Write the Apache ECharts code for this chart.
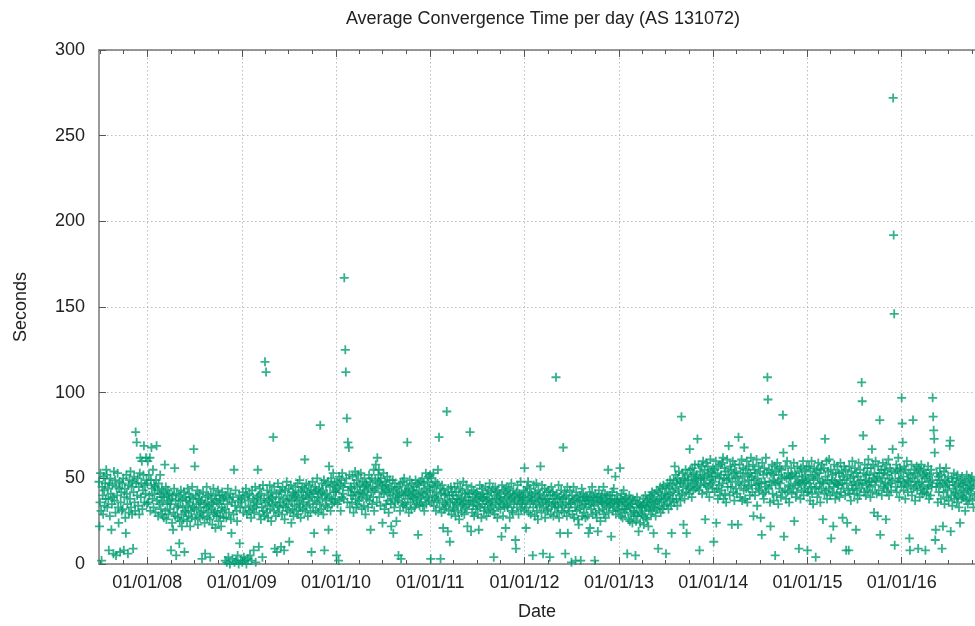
<!DOCTYPE html>
<html>
<head>
<meta charset="utf-8">
<title>Average Convergence Time per day (AS 131072)</title>
<script src="https://cdn.jsdelivr.net/npm/echarts@6/dist/echarts.min.js"></script>
<style>
    html, body { margin: 0; padding: 0; background: #fff; }
    #chart { width: 975px; height: 626px; }
</style>
</head>
<body>
<div id="chart"></div>
<script>
// one value every two days, starting on each array's first date
const firstDay2007 = '2007-06-28'

const v2007 = [
    48,22,36,53,31,2,45,40,29,51,43,34,47,38,55,
    52,33,44,38,8,47,28,50,41,20,35,46,39,6,54,
    37,49,30,5,45,40,53,33,24,44,48,7,36,42,31,
    47,32,50,8,39,44,27,18,52,41,35,6,46,30,49,
    38,54,33,45,29,48,9,42,51,36,31,77,47,71,40,
    50,34,45,29,53,62,39,47,60,32,43,52,69,36,46,
    41,62,49,35
]
const v2008 = [
    47,60,36,52,40,62,31,49,68,44,38,55,33,46,41,
    45,30,49,69,37,43,28,47,35,41,52,32,39,44,29,
    36,42,27,39,58,31,45,26,40,35,43,29,37,41,32,
    35,8,38,24,40,20,30,44,56,28,37,5,41,33,27,
    34,40,12,25,37,43,29,22,38,33,26,42,7,31,39,
    30,37,25,44,34,28,41,36,22,39,31,27,45,33,38,
    67,32,57,26,40,35,29,43,23,38,33,41,27,36,30,
    37,3,28,42,31,35,24,6,39,33,45,27,36,40,30,
    34,26,4,41,32,38,23,35,44,29,37,31,21,40,28,
    36,30,43,25,35,40,28,38,22,33,42,31,37,27,39,
    32,2,40,27,1,35,44,4,30,38,0,41,26,18,36,
    3,39,29,55,1,34,43,2,31,25,5,37,0,40,12,
    33,2,38
]
const v2009 = [
    36,1,42,30,4,39,2,33,44,0,29,40,3,37,31,
    41,5,34,27,2,43,32,38,8,30,36,45,1,33,39,
    35,55,40,10,29,44,37,26,41,33,4,46,31,38,28,
    118,36,112,30,43,34,27,40,37,46,32,39,25,42,35,
    38,74,31,45,9,36,28,41,7,34,47,30,39,33,43,
    36,10,42,29,45,34,38,8,26,43,33,37,48,31,40,
    35,44,13,38,30,46,24,37,32,42,28,41,34,39,45,
    40,31,37,47,29,42,35,49,33,27,43,38,45,32,39,
    36,44,61,31,40,47,34,42,28,38,46,35,41,30,43,
    7,39,48,33,42,18,37,45,31,43,36,50,39,30,41,
    44,35,81,42,32,47,38,43,29,49,8,40,34,46,37,
    41,33,48,20,57,39,45,31,50,38,35,46,53,42,36,
    47,38,43
]
const v2010 = [
    42,5,48,35,44,2,51,37,46,31,49,39,53,41,45,
    38,167,47,125,112,50,85,36,71,43,68,52,33,45,40,
    44,36,51,40,30,47,42,54,38,33,49,45,35,52,41,
    37,46,42,53,39,32,48,41,45,34,50,43,29,47,38,
    46,40,33,44,52,37,48,20,42,50,35,45,39,55,31,
    43,49,58,44,36,62,47,52,55,39,48,34,50,42,46,
    24,45,53,41,32,48,43,35,46,51,37,44,30,42,49,
    40,35,22,45,38,49,18,43,33,47,36,41,25,44,39,
    37,5,45,40,31,47,3,42,36,48,34,40,50,35,43,
    41,33,46,71,38,44,30,42,49,36,40,32,47,39,43,
    38,45,33,41,49,35,43,37,47,17,40,46,34,39,48,
    36,42,50,34,41,47,31,44,38,53,35,42,48,39,51,
    37,45,52
]
const v2011 = [
    43,3,50,36,46,40,53,34,45,39,48,31,42,37,47,
    55,38,74,33,44,3,41,30,46,36,21,43,32,40,35,
    41,34,89,37,19,44,31,40,13,36,45,29,42,38,33,
    40,32,45,36,28,42,35,38,47,31,40,26,37,44,34,
    38,30,43,35,48,36,29,41,33,39,46,32,22,42,37,
    35,41,77,37,19,45,30,39,34,43,28,36,41,32,38,
    42,34,29,40,20,37,46,33,39,27,44,35,41,38,31,
    39,33,45,37,28,41,35,43,30,38,47,32,36,42,34,
    37,44,31,4,40,29,45,35,42,38,27,43,33,39,36,
    41,32,38,16,46,35,28,43,37,33,42,21,39,45,34,
    33,40,44,36,27,41,38,47,31,39,30,43,35,40,37,
    14,9,42,33,46,38,29,41,36,39,48,32,40,35,37,
    39,43,31
]
const v2012 = [
    56,35,42,21,33,45,38,48,30,39,44,36,29,41,37,
    40,5,33,46,37,28,42,35,47,31,39,26,43,38,34,
    41,57,36,30,46,38,6,33,40,44,27,37,35,42,31,
    38,32,43,36,4,40,29,45,34,38,42,28,36,40,33,
    35,109,41,30,38,33,46,27,39,18,36,43,31,38,34,
    68,39,30,42,6,35,40,28,45,18,33,38,31,43,36,
    35,1,40,29,37,45,27,38,33,2,42,31,36,39,26,
    23,37,32,40,2,34,44,28,37,41,30,39,35,27,38,
    33,39,28,37,18,35,42,21,40,32,37,45,29,36,39,
    34,2,41,30,38,27,39,19,35,43,31,37,25,39,36,
    40,32,36,45,29,35,41,27,38,33,40,36,55,30,37,
    34,40,35,16,38,42,31,36,44,33,38,51,29,35,40,
    37,32,36
]
const v2013 = [
    36,31,56,38,28,41,34,27,37,43,32,38,30,35,39,
    32,6,36,26,34,40,25,33,38,29,35,24,37,31,28,
    30,37,5,25,33,39,28,35,19,30,36,24,34,29,33,
    34,28,38,23,35,31,40,27,33,37,26,36,22,32,39,
    34,40,29,36,42,31,38,18,33,41,35,28,37,43,32,
    37,9,42,33,38,45,30,40,36,44,32,46,38,34,41,
    39,6,44,35,47,40,32,45,37,49,41,34,18,46,38,
    42,49,36,57,44,52,38,47,34,50,43,54,40,48,37,
    47,86,41,53,45,23,50,38,49,55,42,18,46,52,44,
    49,41,67,55,45,51,39,56,47,43,53,48,58,44,50,
    52,45,73,49,58,43,8,54,46,50,57,41,51,60,47,
    50,55,26,46,59,42,52,57,45,53,39,49,61,47,54,
    51,44,56
]
const v2014 = [
    48,13,55,42,51,60,24,44,53,38,57,46,50,40,58,
    52,43,59,47,62,38,50,56,41,54,36,49,61,45,52,
    69,50,40,57,45,55,23,48,60,42,53,37,58,51,44,
    54,41,50,23,74,47,58,39,53,46,61,37,51,56,43,
    68,48,38,55,44,60,36,52,45,57,49,40,53,62,46,
    51,42,58,28,49,55,40,53,46,61,34,50,44,57,47,
    43,54,27,47,17,59,41,52,38,56,48,42,62,45,53,
    109,96,44,55,48,36,22,53,46,58,41,52,37,49,57,
    5,47,54,40,59,48,35,52,44,56,47,39,55,50,42,
    87,65,16,51,43,57,38,50,60,42,53,46,36,51,45,
    50,56,41,52,69,44,59,25,53,47,39,51,42,57,48,
    46,9,54,47,38,56,43,51,49,60,40,47,55,44,52,
    48,57,42
]
const v2015 = [
    8,50,42,57,47,37,54,45,60,41,51,35,49,56,44,
    52,4,45,55,39,50,59,42,53,47,36,55,44,58,48,
    26,47,56,41,73,51,43,60,38,49,54,44,61,47,40,
    55,15,49,42,52,22,45,58,48,38,53,47,41,57,46,
    46,53,39,49,59,42,54,47,27,51,44,57,49,40,55,
    8,47,24,52,43,8,57,41,50,37,54,46,60,44,51,
    48,41,56,46,20,53,43,38,51,59,47,40,55,49,44,
    106,95,47,75,53,42,58,49,40,52,46,56,43,61,48,
    52,45,39,56,48,67,42,58,50,30,53,46,60,49,41,
    51,28,57,43,53,84,17,48,55,40,50,59,45,53,44,
    55,47,26,58,42,52,46,61,40,50,56,47,43,54,49,
    67,272,192,146,11,53,45,58,42,55,48,62,50,39,56,
    48,54,45
]
const v2016 = [
    97,82,71,51,43,57,47,38,55,46,60,49,42,53,48,
    15,8,52,45,58,40,50,84,44,55,48,37,53,46,57,
    43,51,9,56,47,39,54,44,58,48,41,52,45,55,42,
    50,8,53,41,51,44,57,46,38,52,48,40,55,45,49,
    97,86,78,73,65,14,20,45,53,47,36,51,42,49,56,
    46,38,52,9,47,22,42,54,35,49,45,56,39,48,43,
    51,37,46,69,72,19,40,50,34,48,44,53,38,46,42,
    41,50,36,52,39,47,33,45,24,49,43,38,51,40,46,
    39,48,42,31,47,37,52,44,35,43,50,38,46,41,49,
    44,51,37,45,33,48,40
]

const xTickLabels = ['01/01/08', '01/01/09', '01/01/10', '01/01/11', '01/01/12',
    '01/01/13', '01/01/14', '01/01/15', '01/01/16']
const yTicks = [0, 50, 100, 150, 200, 250, 300]

const DAY = 86400000
const xMin = Date.UTC(2007, 5, 28)
const xMax = Date.UTC(2016, 9, 11)

const yearRuns = [
    [firstDay2007, v2007], ['2008-01-01', v2008], ['2009-01-01', v2009],
    ['2010-01-01', v2010], ['2011-01-01', v2011], ['2012-01-01', v2012],
    ['2013-01-01', v2013], ['2014-01-01', v2014], ['2015-01-01', v2015],
    ['2016-01-01', v2016]
]

const points = []
yearRuns.forEach(([day, vals]) => {
    const t0 = Date.parse(day + 'T00:00:00Z')
    vals.forEach((v, i) => points.push([t0 + i * 2 * DAY, v]))
})

const parseLabel = (s) => {
    const [mm, dd, yy] = s.split('/').map(Number)
    return Date.UTC(2000 + yy, mm - 1, dd)
}
const yearTicks = xTickLabels.map(parseLabel)
const labelOf = {}
xTickLabels.forEach((s, i) => { labelOf[yearTicks[i]] = s })

// quarter marks between the yearly ticks
const quarterTicks = []
for (let y = 2007; y <= 2016; y++) {
    [3, 6, 9].forEach(m => {
        const t = Date.UTC(y, m, 1)
        if (t > xMin && t < xMax) quarterTicks.push(t)
    })
}

const FONT = 'Liberation Sans, Arial, sans-serif'
const gridLine = { show: true, lineStyle: { color: '#bdbdbd', width: 1, type: [1.5, 2.5] } }
const frame = { show: true, lineStyle: { color: '#777', width: 1.5 } }

const baseX = {
    type: 'value',
    min: xMin,
    max: xMax,
    axisLabel: { show: false },
    splitLine: { show: false },
    axisLine: { show: false }
}

const chart = echarts.init(document.getElementById('chart'), null, { renderer: 'canvas' })

chart.setOption({
    animation: false,
    backgroundColor: '#fff',
    title: {
        text: 'Average Convergence Time per day (AS 131072)',
        left: 538,
        top: 5,
        textAlign: 'center',
        textStyle: { fontFamily: FONT, fontSize: 18, fontWeight: 'normal', color: '#222' }
    },
    grid: { left: 99, right: 0, top: 50, bottom: 62, containLabel: false },
    xAxis: [
        {
            ...baseX,
            position: 'bottom',
            name: 'Date',
            nameLocation: 'middle',
            nameGap: 39,
            nameTextStyle: { fontFamily: FONT, fontSize: 18, color: '#222' },
            axisLine: frame,
            axisTick: { show: true, inside: true, length: 7, customValues: yearTicks, lineStyle: { color: '#555' } },
            axisLabel: {
                show: true, customValues: yearTicks, margin: 10,
                fontFamily: FONT, fontSize: 18, color: '#222',
                formatter: (v) => labelOf[v] || ''
            },
            splitLine: gridLine
        },
        {
            ...baseX,
            position: 'bottom',
            axisTick: { show: true, inside: true, length: 4, customValues: quarterTicks, lineStyle: { color: '#555' } }
        },
        {
            ...baseX,
            position: 'top',
            axisLine: frame,
            axisTick: { show: true, inside: true, length: 7, customValues: yearTicks, lineStyle: { color: '#555' } }
        },
        {
            ...baseX,
            position: 'top',
            axisTick: { show: true, inside: true, length: 4, customValues: quarterTicks, lineStyle: { color: '#555' } }
        }
    ],
    yAxis: {
        type: 'value',
        min: yTicks[0],
        max: yTicks[yTicks.length - 1],
        interval: 50,
        name: 'Seconds',
        nameLocation: 'middle',
        nameRotate: 90,
        nameGap: 69,
        nameTextStyle: { fontFamily: FONT, fontSize: 18, color: '#222' },
        axisLine: frame,
        axisTick: { show: true, inside: true, length: 7, lineStyle: { color: '#555' } },
        axisLabel: { margin: 14, fontFamily: FONT, fontSize: 18, color: '#222' },
        splitLine: gridLine
    },
    series: [{
        type: 'scatter',
        xAxisIndex: 0,
        data: points,
        symbol: 'path://M3.6,0H5.4V3.6H9V5.4H5.4V9H3.6V5.4H0V3.6H3.6Z',
        symbolSize: 9,
        itemStyle: { color: '#009e73', opacity: 0.8 },
        emphasis: { disabled: true }
    }]
})
</script>
</body>
</html>
